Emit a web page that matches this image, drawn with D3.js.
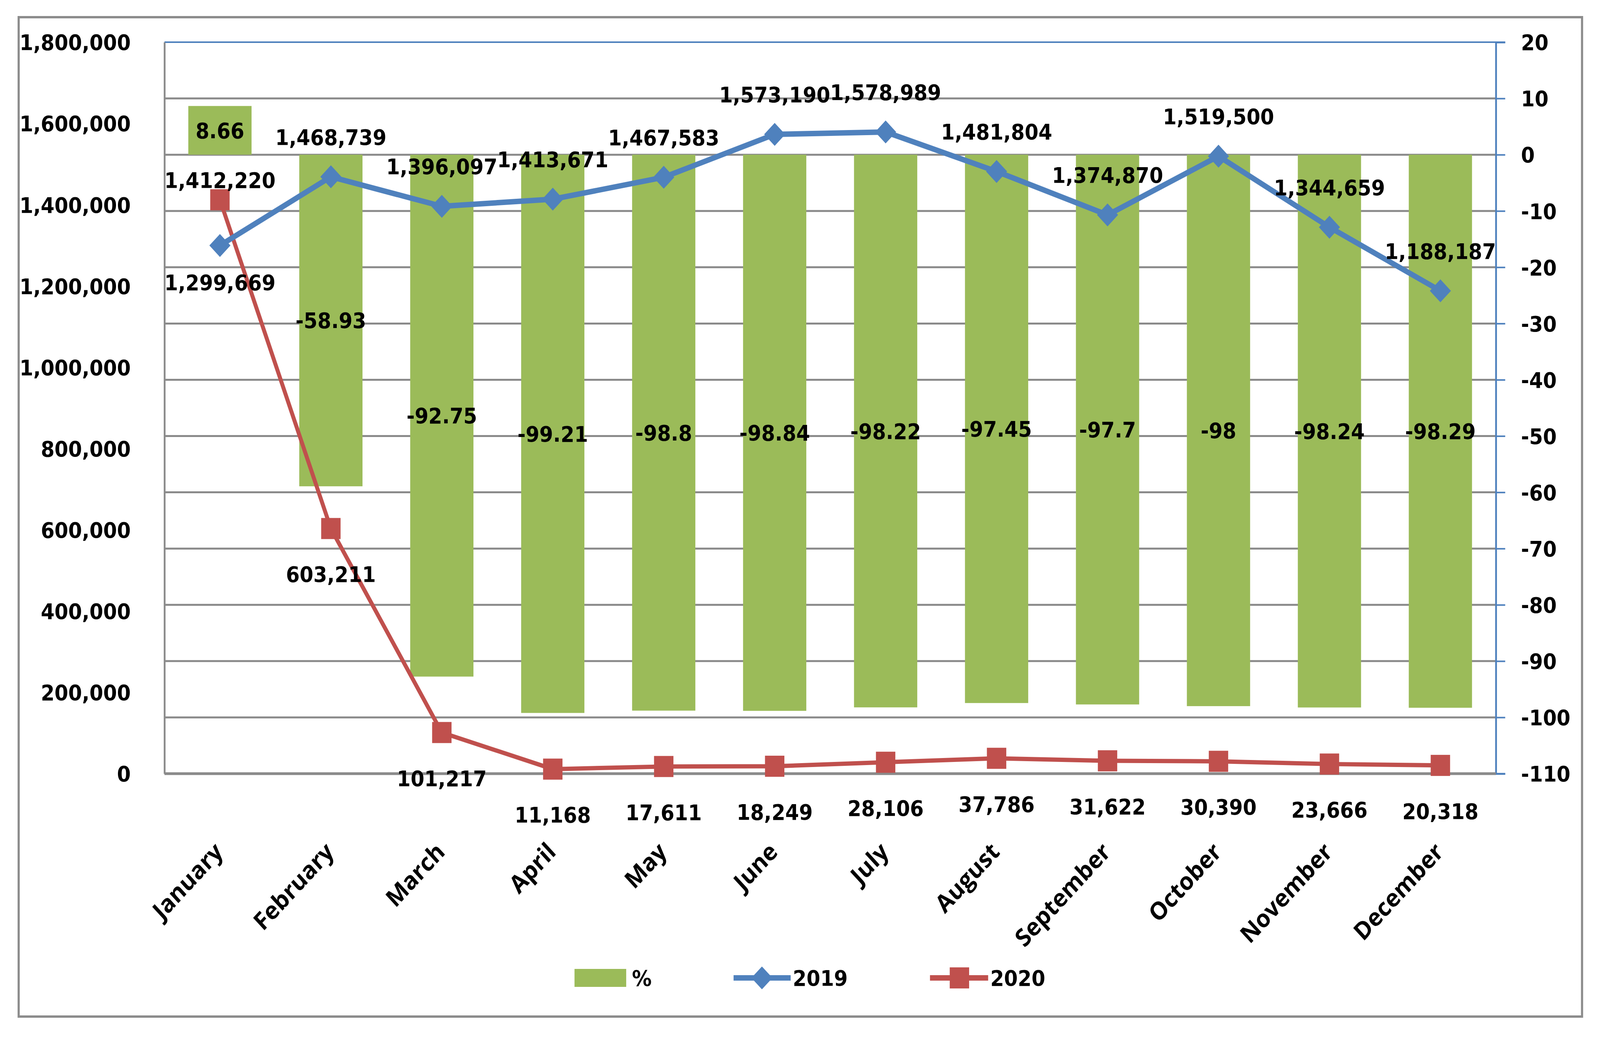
<!DOCTYPE html>
<html>
<head>
<meta charset="utf-8">
<script src="https://cdn.jsdelivr.net/npm/d3@7.9.0/dist/d3.min.js"></script>
<style>
  html, body { margin: 0; padding: 0; width: 100%; height: 100%; overflow: hidden; background: #fff; }
  svg { display: block; width: 100vw; height: 100vh; }
  text { font-family: "DejaVu Sans", sans-serif; font-weight: bold; fill: #000; }
  .month { font-family: "Open Sans", sans-serif; font-weight: 700; }
</style>
</head>
<body>
<svg id="chart" viewBox="0 0 4456 2663" preserveAspectRatio="none"></svg>
<script>
const months = ['January', 'February', 'March', 'April', 'May', 'June', 'July',
  'August', 'September', 'October', 'November', 'December'];
const pctChange = [8.66, -58.93, -92.75, -99.21, -98.8, -98.84, -98.22, -97.45, -97.7, -98, -98.24, -98.29];
const vals2019 = [1299669, 1468739, 1396097, 1413671, 1467583, 1573190, 1578989, 1481804, 1374870, 1519500, 1344659, 1188187];
const vals2020 = [1412220, 603211, 101217, 11168, 17611, 18249, 28106, 37786, 31622, 30390, 23666, 20318];
const leftTicks = [0, 200000, 400000, 600000, 800000, 1000000, 1200000, 1400000, 1600000, 1800000];
const rightTicks = [20, 10, 0, -10, -20, -30, -40, -50, -60, -70, -80, -90, -100, -110];
const legendNames = ['%', '2019', '2020'];

const W = 4456, H = 2663;
const plot = { left: 458, right: 4166, top: 108, bottom: 1981 };
const green = '#9BBB59', blue = '#4F81BD', red = '#C0504D';
const fmt = d3.format(',');

const svg = d3.select('#chart');
svg.append('rect').attr('width', W).attr('height', H).attr('fill', '#fff');

// outer border
svg.append('rect')
  .attr('x', 52).attr('y', 44).attr('width', 4354).attr('height', 2559)
  .attr('fill', 'none').attr('stroke', '#8c8c8c').attr('stroke-width', 6);

const x = d3.scaleBand().domain(months).range([plot.left, plot.right]);
const cx = m => x(m) + x.bandwidth() / 2;
const yL = d3.scaleLinear().domain([0, 1800000]).range([plot.bottom, plot.top]);
const yR = d3.scaleLinear().domain([-110, 20]).range([plot.bottom, plot.top]);

// gridlines from right axis ticks
svg.append('g').selectAll('line').data(rightTicks).join('line')
  .attr('x1', plot.left).attr('x2', plot.right)
  .attr('y1', d => yR(d)).attr('y2', d => yR(d))
  .attr('stroke', d => d === 20 ? blue : '#8a8a8a')
  .attr('stroke-width', d => d === 20 ? 4 : 5);

// left axis
const axL = svg.append('g').attr('transform', `translate(${plot.left},0)`)
  .call(d3.axisLeft(yL).tickValues(leftTicks).tickFormat(fmt).tickSize(0).tickPadding(94));
axL.select('.domain').attr('stroke', '#8a8a8a').attr('stroke-width', 5);
axL.selectAll('text').attr('font-size', 55).attr('dy', '0.36em');

// right axis (plain hyphen for negatives, as in the original)
const axR = svg.append('g').attr('transform', `translate(${plot.right},0)`)
  .call(d3.axisRight(yR).tickValues(rightTicks).tickFormat(d => String(d)).tickSize(26).tickPadding(44));
axR.select('.domain').attr('stroke', blue).attr('stroke-width', 5);
axR.selectAll('.tick line').attr('stroke', blue).attr('stroke-width', 4);
axR.selectAll('text').attr('font-size', 55).attr('dy', '0.36em');

// bars (% change, right axis)
const barW = x.bandwidth() * 0.57;
svg.append('g').selectAll('rect').data(months).join('rect')
  .attr('x', m => cx(m) - barW / 2)
  .attr('width', barW)
  .attr('y', (m, i) => yR(Math.max(0, pctChange[i])))
  .attr('height', (m, i) => Math.abs(yR(pctChange[i]) - yR(0)))
  .attr('fill', green);

// bottom category axis line
svg.append('line')
  .attr('x1', plot.left).attr('x2', plot.right)
  .attr('y1', plot.bottom).attr('y2', plot.bottom)
  .attr('stroke', '#8a8a8a').attr('stroke-width', 7);

// lines
const line = d3.line().x(d => cx(d.m)).y(d => yL(d.v));
const s2019 = months.map((m, i) => ({ m, v: vals2019[i] }));
const s2020 = months.map((m, i) => ({ m, v: vals2020[i] }));

svg.append('path').datum(s2020).attr('d', line)
  .attr('fill', 'none').attr('stroke', red).attr('stroke-width', 11).attr('stroke-linejoin', 'round');
svg.append('g').selectAll('rect').data(s2020).join('rect')
  .attr('x', d => cx(d.m) - 27).attr('y', d => yL(d.v) - 27)
  .attr('width', 54).attr('height', 54).attr('fill', red);

svg.append('path').datum(s2019).attr('d', line)
  .attr('fill', 'none').attr('stroke', blue).attr('stroke-width', 14).attr('stroke-linejoin', 'round');
const diamond = d3.symbol().type(d3.symbolDiamond2).size(2200);
svg.append('g').selectAll('path').data(s2019).join('path')
  .attr('d', diamond)
  .attr('transform', d => `translate(${cx(d.m)},${yL(d.v)})`)
  .attr('fill', blue);

// data labels
const labels = svg.append('g').attr('font-size', 55).attr('text-anchor', 'middle');
labels.selectAll('.pct').data(months).join('text').attr('class', 'pct')
  .attr('x', cx)
  .attr('y', (m, i) => (yR(pctChange[i]) + yR(0)) / 2)
  .attr('dy', '0.36em')
  .text((m, i) => pctChange[i]);

labels.selectAll('.l19').data(s2019).join('text').attr('class', 'l19')
  .attr('x', d => cx(d.m))
  .attr('y', (d, i) => yL(d.v) + (i === 0 ? 114 : -82))
  .text(d => fmt(d.v));

labels.selectAll('.l20').data(s2020).join('text').attr('class', 'l20')
  .attr('x', d => cx(d.m))
  .attr('y', (d, i) => yL(d.v) + (i === 0 ? -30 : 137))
  .text(d => fmt(d.v));

// month labels
svg.append('g').selectAll('text').data(months).join('text')
  .attr('class', 'month')
  .attr('font-size', 63)
  .attr('text-anchor', 'end')
  .attr('transform', m => `translate(${cx(m) + 12},${plot.bottom + 204}) rotate(-45)`)
  .text(m => m);

// legend
const leg = svg.append('g').attr('font-size', 55);
const ly = 2504;
leg.append('rect').attr('x', 1600).attr('y', ly - 23).attr('width', 144).attr('height', 46).attr('fill', green);
leg.append('text').attr('x', 1760).attr('y', ly).attr('dy', '0.36em').text(legendNames[0]);

leg.append('line').attr('x1', 2043).attr('x2', 2202).attr('y1', ly).attr('y2', ly)
  .attr('stroke', blue).attr('stroke-width', 14);
leg.append('path').attr('d', diamond).attr('transform', `translate(2122,${ly})`).attr('fill', blue);
leg.append('text').attr('x', 2208).attr('y', ly).attr('dy', '0.36em').text(legendNames[1]);

leg.append('line').attr('x1', 2590).attr('x2', 2752).attr('y1', ly).attr('y2', ly)
  .attr('stroke', red).attr('stroke-width', 14);
leg.append('rect').attr('x', 2645).attr('y', ly - 27).attr('width', 54).attr('height', 54).attr('fill', red);
leg.append('text').attr('x', 2758).attr('y', ly).attr('dy', '0.36em').text(legendNames[2]);
</script>
</body>
</html>
